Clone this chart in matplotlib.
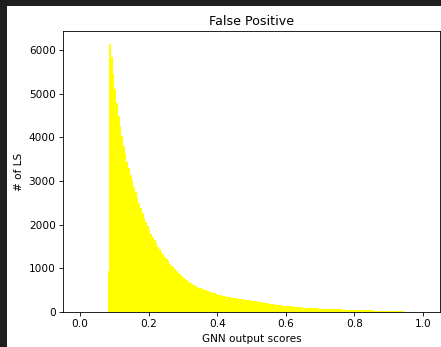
import numpy as np
import matplotlib
matplotlib.use("Agg")
import matplotlib.pyplot as plt
from matplotlib.patches import Rectangle

# histogram of GNN scores, bins of 0.005 starting at 0.08
bin_start = 0.08
bin_width = 0.005
counts = [
    940, 6130, 5850, 5450, 5100, 4780, 4500, 4260, 4020, 3800,
    3620, 3440, 3290, 3140, 3010, 2870, 2740, 2620, 2500, 2380,
    2270, 2160, 2060, 1960, 1870, 1790, 1710, 1640, 1570, 1500,
    1440, 1380, 1320, 1260, 1210, 1160, 1110, 1065, 1020, 980,
    940, 900, 860, 825, 790, 755, 725, 695, 670, 645,
    620, 600, 580, 560, 540, 525, 510, 495, 480, 465,
    450, 438, 425, 412, 400, 390, 380, 370, 360,
    352, 345, 336, 330, 322, 318, 310, 305, 298, 292,
    286, 281, 275, 270, 262, 258, 250, 246, 240, 233,
    226, 220, 212, 206, 198, 192, 185, 178, 172, 168,
    162, 158, 152, 148, 143, 138, 134, 130, 126, 122,
    118, 115, 112, 108, 105, 102, 99, 96, 94, 91,
    88, 86, 84, 82, 80, 78, 76, 74, 72, 71,
    69, 67, 66, 64, 62, 61, 59, 58, 56, 55,
    53, 52, 50, 49, 47, 46, 45, 43, 42, 41,
    40, 39, 38, 37, 36, 35, 34, 33, 32, 31,
    30, 29, 28, 27, 26, 25, 24, 23, 22, 21,
    19, 17, 15, 13, 10,
]
xticks = [0.0, 0.2, 0.4, 0.6, 0.8, 1.0]

edges = bin_start + bin_width * np.arange(len(counts) + 1)
centers = 0.5 * (edges[:-1] + edges[1:])

dpi = 75.7
fig = plt.figure(figsize=(441 / dpi, 347 / dpi), dpi=dpi)
fig.patch.set_facecolor('#1f1f1f')
fig.patches.append(Rectangle((7 / 441, 0), 1, 341 / 347, transform=fig.transFigure,
                             facecolor='white', edgecolor='none', zorder=-1))

ax = fig.add_axes([63 / 441, 35 / 347, 377 / 441, 281 / 347])
ax.hist(centers, bins=edges, weights=counts, color='yellow', histtype='stepfilled')
ax.set_xlim(-0.05, 1.05)
ax.set_xticks(xticks)
ax.set_title('False Positive')
ax.set_xlabel('GNN output scores')
ax.set_ylabel('# of LS')

fig.savefig('out.png', dpi=dpi, facecolor=fig.get_facecolor())
